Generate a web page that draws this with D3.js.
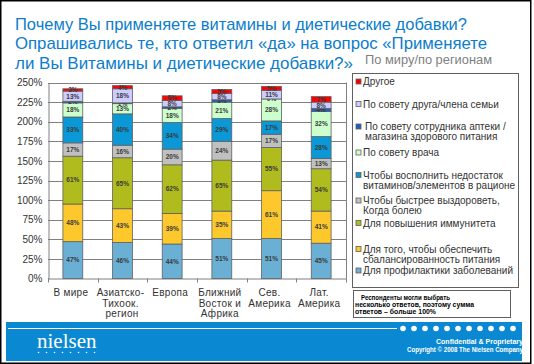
<!DOCTYPE html>
<html>
<head>
<meta charset="utf-8">
<script src="https://d3js.org/d3.v7.min.js"></script>
<style>
  body { margin: 0; background: #fff; }
  svg { display: block; font-family: "Liberation Sans", Arial, sans-serif; }
</style>
</head>
<body>
<div id="chart-area"></div>
<script>

// categories (line breaks as in the axis labels)
let categories = ["В мире", "Азиатско-\nТихоок.\n регион", "Европа", "Ближний\nВосток и\nАфрика", "Сев.\nАмерика", "Лат.\nАмерика"];

// series values, % of respondents (stack order bottom -> top)
let prophylaxis = [47, 46, 44, 51, 51, 45];
let balance     = [48, 43, 39, 35, 61, 41];
let immunity    = [61, 65, 62, 65, 55, 54];
let recover     = [17, 16, 20, 24, 17, 13];
let deficit     = [33, 40, 34, 29, 17, 28];
let doctor      = [18, 13, 18, 21, 28, 32];
let pharmacy    = [2, 1, 2, 3, 0, 4];
let friend      = [13, 18, 8, 8, 11, 8];
let other       = [3, 4, 6, 5, 5, 7];

let seriesNames = [
	"Для профилактики заболеваний",
	"Для того, чтобы обеспечить\nсбалансированность питания",
	"Для повышения иммунитета",
	"Чтобы быстрее выздороветь,\nКогда болею",
	"Чтобы восполнить недостаток\nвитаминов/элементов в рационе",
	"По совету врача",
	"По совету сотрудника аптеки /\nмагазина здорового питания",
	"По совету друга/члена семьи",
	"Другое"
];
let seriesValues = [prophylaxis, balance, immunity, recover, deficit, doctor, pharmacy, friend, other];
let seriesColors = ["#6aafd4", "#fcc82c", "#b0bc1e", "#c0c0c0", "#0a99d6", "#ccffcc", "#1f5fbf", "#ccccff", "#ff0000"];

let yTicks = [0, 25, 50, 75, 100, 125, 150, 175, 200, 225, 250];

// build rows for d3.stack
let rows = categories.map((c, i) => {
	let r = {cat: c};
	seriesNames.forEach((s, j) => r[s] = seriesValues[j][i]);
	return r;
});
let stacked = d3.stack().keys(seriesNames)(rows);

let W = 534, H = 364;
let plot = {left: 48, right: 346, top: 82.5, bottom: 278.5};

let svg = d3.select("#chart-area").append("svg")
	.attr("width", W)
	.attr("height", H);

// outer frame
svg.append("rect")
	.attr("x", 0.75).attr("y", 0.75)
	.attr("width", 530).attr("height", 362.5)
	.attr("fill", "#fff")
	.attr("stroke", "#000")
	.attr("stroke-width", 1.5);

// title (widths fitted to the reference lines)
let titleLines = [
	{t: "Почему Вы применяете витамины и диетические добавки?", w: 452},
	{t: "Опрашивались те, кто ответил «да» на вопрос «Применяете", w: 472},
	{t: "ли Вы Витамины и диетические добавки?»", w: 338}
];
svg.selectAll(".title").data(titleLines).enter()
	.append("text")
	.attr("class", "title")
	.attr("x", 15)
	.attr("y", (d, i) => 29.5 + i * 19.5)
	.attr("textLength", d => d.w)
	.attr("lengthAdjust", "spacingAndGlyphs")
	.attr("fill", "#0b7dcb")
	.style("font-size", "17px")
	.text(d => d.t);

svg.append("text")
	.attr("x", 365).attr("y", 64)
	.attr("textLength", 127)
	.attr("lengthAdjust", "spacingAndGlyphs")
	.attr("fill", "#808080")
	.style("font-size", "12.5px")
	.text("По миру/по регионам");

// scales
let x = d3.scaleBand().domain(categories).range([plot.left, plot.right]).paddingInner(0.6).paddingOuter(0.3);
let y = d3.scaleLinear().domain([0, 250]).range([plot.bottom, plot.top]);

// gridlines
svg.selectAll(".grid").data(yTicks.slice(1)).enter()
	.append("line")
	.attr("x1", plot.left).attr("x2", plot.right)
	.attr("y1", d => Math.round(y(d)) + 0.5).attr("y2", d => Math.round(y(d)) + 0.5)
	.attr("stroke", "#808080");

// right border & left axis
svg.append("line")
	.attr("x1", plot.right + 0.5).attr("x2", plot.right + 0.5)
	.attr("y1", plot.top).attr("y2", plot.bottom)
	.attr("stroke", "#808080");

let yAxis = d3.axisLeft(y).tickValues(yTicks).tickSize(0).tickPadding(6).tickFormat(d => d + "%");
let yAxisGroup = svg.append("g")
	.attr("transform", "translate(" + (plot.left + 0.5) + ",0)")
	.call(yAxis);
yAxisGroup.select(".domain").attr("stroke", "#808080");
yAxisGroup.selectAll("text")
	.attr("fill", "#333")
	.style("font-size", "10px")
	.style("font-family", "'Liberation Sans', Arial, sans-serif");

// bottom axis line with ticks between categories
svg.append("line")
	.attr("x1", plot.left).attr("x2", plot.right + 0.5)
	.attr("y1", plot.bottom + 0.5).attr("y2", plot.bottom + 0.5)
	.attr("stroke", "#808080");
let bounds = categories.map(c => x(c) - x.step() * x.paddingInner() / 2);
bounds.push(plot.right);
svg.selectAll(".xtick").data(bounds).enter()
	.append("line")
	.attr("x1", d => Math.round(d) + 0.5).attr("x2", d => Math.round(d) + 0.5)
	.attr("y1", plot.bottom).attr("y2", plot.bottom + 4)
	.attr("stroke", "#808080");

// category labels
let catLabels = svg.selectAll(".cat").data(categories).enter()
	.append("text")
	.attr("class", "cat")
	.attr("text-anchor", "middle")
	.attr("fill", "#333")
	.style("font-size", "10px")
	.style("letter-spacing", "0.3px");
catLabels.selectAll("tspan").data(d => d.split("\n").map(t => ({t: t, c: d}))).enter()
	.append("tspan")
	.attr("x", d => x(d.c) + x.bandwidth() / 2 - 2)
	.attr("y", (d, i) => 296 + i * 10.5)
	.text(d => d.t);

// bars
let layers = svg.selectAll(".layer").data(stacked).enter()
	.append("g")
	.attr("class", "layer")
	.attr("fill", (d, i) => seriesColors[i]);

layers.selectAll("rect").data(d => d).enter()
	.append("rect")
	.attr("x", d => x(d.data.cat))
	.attr("y", d => y(d[1]))
	.attr("width", x.bandwidth())
	.attr("height", d => y(d[0]) - y(d[1]))
	.attr("stroke", "#606060")
	.attr("stroke-width", 0.8);

// value labels
layers.selectAll(".val").data(d => d).enter()
	.append("text")
	.attr("class", "val")
	.attr("x", d => x(d.data.cat) + x.bandwidth() / 2)
	.attr("y", d => (y(d[0]) + y(d[1])) / 2 + 2.3)
	.attr("text-anchor", "middle")
	.attr("fill", "#3a3a3a")
	.style("font-size", "6.5px")
	.style("font-weight", "bold")
	.text(d => (d[1] - d[0]) + "%");

// legend
svg.append("rect")
	.attr("x", 352.5).attr("y", 73.5)
	.attr("width", 166).attr("height", 214)
	.attr("fill", "#fff")
	.attr("stroke", "#606060");

// first-line baselines of legend entries, top to bottom
let legendY = [85, 107.5, 130, 156, 178.5, 204, 226.5, 252.5, 274];
let legendOrder = seriesNames.map((s, i) => i).reverse();

let legend = svg.selectAll(".legend").data(legendOrder).enter()
	.append("g")
	.attr("class", "legend");

legend.append("rect")
	.attr("x", 356)
	.attr("y", (d, i) => legendY[i] - 6)
	.attr("width", 5)
	.attr("height", 5)
	.attr("fill", d => seriesColors[d])
	.attr("stroke", "#606060")
	.attr("stroke-width", 0.8);

legend.append("text")
	.attr("fill", "#333")
	.style("font-size", "10px")
	.each(function(d, i) {
		let lx = d === 6 ? 365 : 363;
		d3.select(this).selectAll("tspan")
			.data(seriesNames[d].split("\n")).enter()
			.append("tspan")
			.attr("x", lx)
			.attr("y", (t, k) => legendY[i] + k * 10)
			.text(t => t);
	});

// note box
svg.append("rect")
	.attr("x", 353.5).attr("y", 290.5)
	.attr("width", 157).attr("height", 27)
	.attr("fill", "#fff")
	.attr("stroke", "#606060");

let noteLines = [
	{t: "Респонденты могли выбрать", x: 361, w: 89},
	{t: "несколько ответов, поэтому сумма", x: 355, w: 119},
	{t: "ответов – больше 100%", x: 355, w: 81}
];
svg.selectAll(".note").data(noteLines).enter()
	.append("text")
	.attr("x", d => d.x)
	.attr("y", (d, i) => 299.5 + i * 7)
	.attr("textLength", d => d.w)
	.attr("lengthAdjust", "spacingAndGlyphs")
	.attr("fill", "#000")
	.style("font-size", "6.5px")
	.style("font-weight", "bold")
	.text(d => d.t);

// footer band
svg.append("rect")
	.attr("x", 6).attr("y", 322)
	.attr("width", 516).attr("height", 39)
	.attr("fill", "#0a88d2");

svg.append("line")
	.attr("x1", 8).attr("x2", 397)
	.attr("y1", 328.5).attr("y2", 328.5)
	.attr("stroke", "#fff")
	.attr("stroke-width", 1);

svg.selectAll(".fdot").data(d3.range(11)).enter()
	.append("circle")
	.attr("cx", d => 403 + d * 11)
	.attr("cy", 328.5)
	.attr("r", 2.8)
	.attr("fill", "#fff");

svg.append("text")
	.attr("x", 37).attr("y", 348)
	.attr("fill", "#fff")
	.style("font-family", "'Liberation Serif', 'Times New Roman', serif")
	.style("font-size", "21px")
	.text("nielsen");

svg.selectAll(".ldot").data(d3.range(8)).enter()
	.append("circle")
	.attr("cx", d => 38.5 + d * 8)
	.attr("cy", 352.5)
	.attr("r", 0.8)
	.attr("fill", "#fff");

svg.append("text")
	.attr("x", 523).attr("y", 344)
	.attr("text-anchor", "end")
	.attr("textLength", 87)
	.attr("lengthAdjust", "spacingAndGlyphs")
	.attr("fill", "#fff")
	.style("font-size", "6.5px")
	.style("font-weight", "bold")
	.text("Confidential & Proprietary");

svg.append("text")
	.attr("x", 523).attr("y", 352)
	.attr("text-anchor", "end")
	.attr("textLength", 116)
	.attr("lengthAdjust", "spacingAndGlyphs")
	.attr("fill", "#fff")
	.style("font-size", "6.5px")
	.style("font-weight", "bold")
	.text("Copyright © 2008 The Nielsen Company");

</script>
</body>
</html>
